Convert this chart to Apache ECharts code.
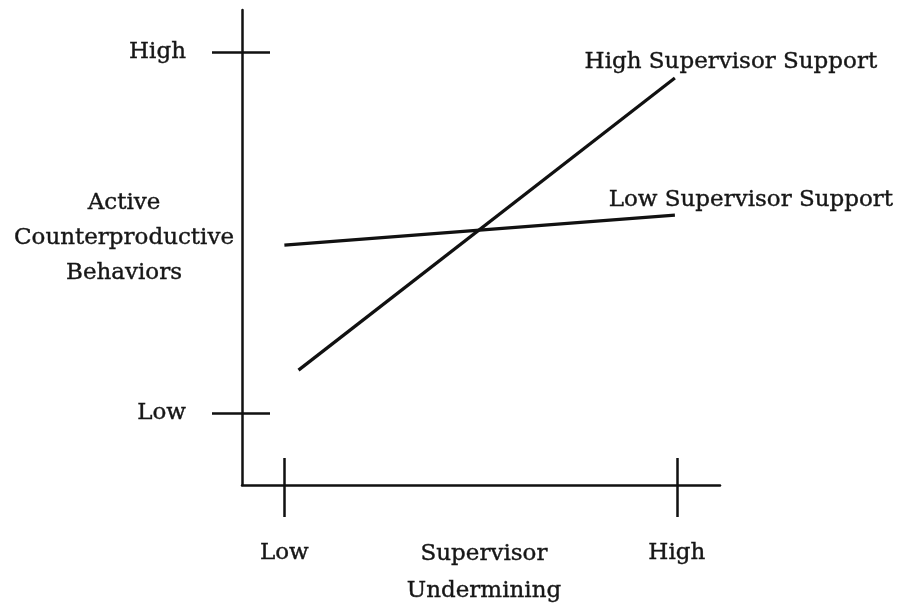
<!DOCTYPE html>
<html>
<head>
<meta charset="utf-8">
<script src="https://cdn.jsdelivr.net/npm/echarts@6/dist/echarts.min.js"></script>
<style>
html,body{margin:0;padding:0;background:#fff;}
#chart{width:902px;height:607px;}
</style>
</head>
<body>
<div id="chart"></div>
<script>
// ---- data ----
var xTickValues = [0, 1];
var xTickLabels = ['Low', 'High'];
var yTickValues = [0, 1];
var yTickLabels = ['Low', 'High'];
var xAxisTitle = 'Supervisor\nUndermining';
var yAxisTitle = 'Active\nCounterproductive\nBehaviors';
var seriesNames = ['High Supervisor Support', 'Low Supervisor Support'];
var highSupportX = [0.036, 0.995];
var highSupportY = [0.119, 0.928];
var lowSupportX = [0.0, 0.995];
var lowSupportY = [0.465, 0.548];

// ---- chart ----
var FONT = 'DejaVu Serif';
var INK = '#111111';
var TXT = '#161616';
var FS = 23;
var TB = { textBorderColor: '#161616', textBorderWidth: 0.4 };

function pairs(xs, ys) {
  return xs.map(function (x, i) { return [x, ys[i]]; });
}
function txt(extra) {
  var o = { fontFamily: FONT, fontSize: FS, color: TXT, textBorderColor: TB.textBorderColor, textBorderWidth: TB.textBorderWidth };
  for (var k in extra) o[k] = extra[k];
  return o;
}

var grid = { left: 242, right: 182, top: 10, bottom: 122, containLabel: false, outerBoundsMode: 'none' };
var gridW = 902 - grid.left - grid.right;
var gridH = 607 - grid.top - grid.bottom;

var xMin = -0.108, xMax = 1.110;
var yMin = -0.199, yMax = 1.116;

function labelFor(values, labels) {
  return function (v) {
    for (var i = 0; i < values.length; i++) {
      if (Math.abs(values[i] - v) < 1e-9) return labels[i];
    }
    return '';
  };
}

var chart = echarts.init(document.getElementById('chart'), null, { renderer: 'canvas' });

var lineStyle = { color: INK, width: 3.2 };

var option = {
  animation: false,
  backgroundColor: '#ffffff',
  grid: grid,
  xAxis: [
    {
      type: 'value', min: xMin, max: xMax, position: 'bottom',
      axisLine: { show: true, onZero: false, lineStyle: { color: INK, width: 2.5 } },
      axisTick: { show: true, inside: false, length: 32, customValues: xTickValues, lineStyle: { color: INK, width: 2.5 } },
      axisLabel: txt({
        show: true, customValues: xTickValues, formatter: labelFor(xTickValues, xTickLabels), margin: 57
      }),
      splitLine: { show: false },
      name: xAxisTitle, nameLocation: 'middle', nameGap: 51, nameMoveOverlap: false,
      nameTextStyle: txt({ lineHeight: 37, align: 'center', verticalAlign: 'top', padding: [0, 0, 0, 6] })
    },
    {
      type: 'value', min: xMin, max: xMax, position: 'top', offset: -gridH,
      axisLine: { show: false, onZero: false },
      axisTick: { show: true, inside: false, length: 27, customValues: xTickValues, lineStyle: { color: INK, width: 2.5 } },
      axisLabel: { show: false },
      splitLine: { show: false }
    }
  ],
  yAxis: [
    {
      type: 'value', min: yMin, max: yMax, position: 'left',
      axisLine: { show: true, onZero: false, lineStyle: { color: INK, width: 2.5 } },
      axisTick: { show: true, inside: false, length: 30, customValues: yTickValues, lineStyle: { color: INK, width: 2.5 } },
      axisLabel: txt({
        show: true, customValues: yTickValues, formatter: labelFor(yTickValues, yTickLabels), margin: 56
      }),
      splitLine: { show: false },
      name: yAxisTitle + '\n{gap|}', nameLocation: 'middle', nameGap: 118, nameRotate: 0, nameMoveOverlap: false,
      nameTextStyle: txt({ lineHeight: 35, align: 'center', verticalAlign: 'middle',
        rich: { gap: { height: 18, lineHeight: 18, fontSize: 1 } } })
    },
    {
      type: 'value', min: yMin, max: yMax, position: 'right', offset: -gridW,
      axisLine: { show: false, onZero: false },
      axisTick: { show: true, inside: false, length: 28, customValues: yTickValues, lineStyle: { color: INK, width: 2.5 } },
      axisLabel: { show: false },
      splitLine: { show: false }
    }
  ],
  series: [
    {
      name: seriesNames[0], type: 'line', xAxisIndex: 0, yAxisIndex: 0,
      data: pairs(highSupportX, highSupportY),
      showSymbol: false, symbol: 'none', lineStyle: lineStyle,
      endLabel: txt({
        show: true, formatter: seriesNames[0],
        align: 'center', verticalAlign: 'middle', distance: 0, offset: [56, -16]
      })
    },
    {
      name: seriesNames[1], type: 'line', xAxisIndex: 0, yAxisIndex: 0,
      data: pairs(lowSupportX, lowSupportY),
      showSymbol: false, symbol: 'none', lineStyle: lineStyle,
      endLabel: txt({
        show: true, formatter: seriesNames[1],
        align: 'center', verticalAlign: 'middle', distance: 0, offset: [76, -15]
      })
    }
  ]
};

chart.setOption(option);
</script>
</body>
</html>
